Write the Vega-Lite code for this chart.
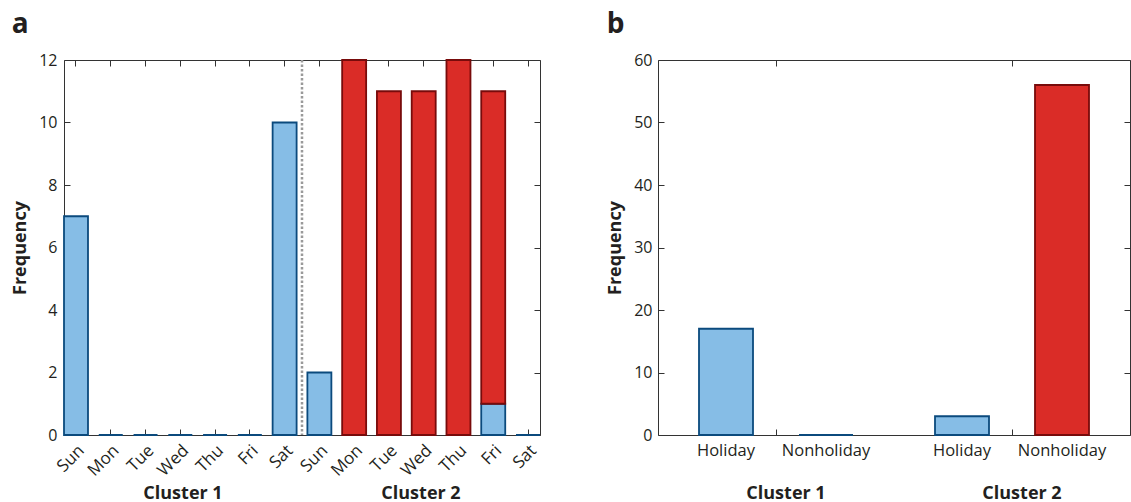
{
  "$schema": "https://vega.github.io/schema/vega-lite/v6.json",
  "padding": {"left": 11, "top": 10, "right": 0, "bottom": 0},
  "spacing": 64,
  "config": {
    "font": "Open Sans",
    "view": {"stroke": "#333333", "strokeWidth": 1},
    "axis": {
      "labelFont": "Open Sans", "labelFontSize": 16, "labelColor": "#231F20",
      "tickColor": "#333333", "tickSize": -6, "tickWidth": 1, "grid": false, "domain": false, "zindex": 1,
      "titleFont": "Open Sans", "titleFontWeight": "bold", "titleFontSize": 18, "titleColor": "#231F20"
    }
  },
  "hconcat": [
    {
      "width": 476, "height": 375,
      "title": {"text": "a", "anchor": "start", "frame": "bounds", "fontSize": 28, "fontWeight": "bold", "offset": 13, "color": "#231F20", "font": "Open Sans"},
      "layer": [
        {
          "data": {"values": [
            {"day": "Sun1", "type": "Holiday", "count": 7},
            {"day": "Mon1", "type": "Holiday", "count": 0},
            {"day": "Tue1", "type": "Holiday", "count": 0},
            {"day": "Wed1", "type": "Holiday", "count": 0},
            {"day": "Thu1", "type": "Holiday", "count": 0},
            {"day": "Fri1", "type": "Holiday", "count": 0},
            {"day": "Sat1", "type": "Holiday", "count": 10},
            {"day": "Sun2", "type": "Holiday", "count": 2},
            {"day": "Mon2", "type": "Nonholiday", "count": 12},
            {"day": "Tue2", "type": "Nonholiday", "count": 11},
            {"day": "Wed2", "type": "Nonholiday", "count": 11},
            {"day": "Thu2", "type": "Nonholiday", "count": 12},
            {"day": "Fri2", "type": "Holiday", "count": 1},
            {"day": "Fri2", "type": "Nonholiday", "count": 10},
            {"day": "Sat2", "type": "Holiday", "count": 0}
          ]},
          "mark": {"type": "bar", "strokeWidth": 1.8},
          "encoding": {
            "x": {"field": "day", "type": "nominal",
              "scale": {"type": "band", "domain": ["Sun1","Mon1","Tue1","Wed1","Thu1","Fri1","Sat1","Sun2","Mon2","Tue2","Wed2","Thu2","Fri2","Sat2"], "paddingInner": 0.31, "paddingOuter": 0},
              "axis": {"orient": "bottom", "title": null, "labelExpr": "slice(datum.label, 0, 3)", "labelAngle": -45, "labelPadding": 13, "labelFontSize": 17}},
            "y": {"field": "count", "type": "quantitative", "stack": "zero",
              "scale": {"domain": [0, 12], "nice": false},
              "axis": {"orient": "left", "title": "Frequency", "values": [0, 2, 4, 6, 8, 10, 12], "labelPadding": 13, "titlePadding": 9}},
            "color": {"field": "type", "type": "nominal", "scale": {"domain": ["Holiday", "Nonholiday"], "range": ["#86BDE6", "#DA2C27"]}, "legend": null},
            "stroke": {"field": "type", "type": "nominal", "scale": {"domain": ["Holiday", "Nonholiday"], "range": ["#0B4A7D", "#780B0B"]}, "legend": null},
            "order": {"field": "type", "sort": "ascending"}
          }
        },
        {
          "data": {"values": [{"cluster": "Cluster 2"}]},
          "mark": {"type": "rule", "strokeDash": [2.5, 2], "strokeWidth": 2.5, "stroke": "#9A9A9A"},
          "encoding": {
            "x": {"field": "cluster", "type": "nominal", "bandPosition": 0,
              "scale": {"type": "band", "domain": ["Cluster 1", "Cluster 2"], "paddingInner": 0, "paddingOuter": 0},
              "axis": {"orient": "bottom", "title": null, "ticks": false, "labelAngle": 0, "labelFontWeight": "bold", "labelFontSize": 18, "labelPadding": 49}}
          }
        },
        {
          "data": {"values": [{"day": "Sun1", "count": 0}]},
          "mark": {"type": "point", "opacity": 0},
          "encoding": {
            "x": {"field": "day", "type": "nominal",
              "scale": {"type": "band", "domain": ["Sun1","Mon1","Tue1","Wed1","Thu1","Fri1","Sat1","Sun2","Mon2","Tue2","Wed2","Thu2","Fri2","Sat2"], "paddingInner": 0.31, "paddingOuter": 0},
              "axis": {"orient": "top", "title": null, "labels": false}},
            "y": {"field": "count", "type": "quantitative",
              "scale": {"domain": [0, 12], "nice": false},
              "axis": {"orient": "right", "title": null, "labels": false, "values": [0, 2, 4, 6, 8, 10, 12]}}
          }
        }
      ],
      "resolve": {"scale": {"x": "independent", "y": "independent"}, "axis": {"x": "independent", "y": "independent"}}
    },
    {
      "width": 472, "height": 375,
      "title": {"text": "b", "anchor": "start", "frame": "bounds", "fontSize": 28, "fontWeight": "bold", "offset": 13, "color": "#231F20", "font": "Open Sans"},
      "layer": [
        {
          "data": {"values": [
            {"cluster": "Cluster 1", "type": "Holiday", "count": 17},
            {"cluster": "Cluster 1", "type": "Nonholiday", "count": 0},
            {"cluster": "Cluster 2", "type": "Holiday", "count": 3},
            {"cluster": "Cluster 2", "type": "Nonholiday", "count": 56}
          ]},
          "mark": {"type": "bar", "strokeWidth": 1.8},
          "encoding": {
            "x": {"field": "cluster", "type": "nominal",
              "scale": {"type": "band", "domain": ["Cluster 1", "Cluster 2"], "paddingInner": 0, "paddingOuter": 0},
              "axis": {"orient": "bottom", "title": null, "labelAngle": 0, "labelFontWeight": "bold", "labelFontSize": 18, "labelPadding": 55, "labelOffset": 10}},
            "xOffset": {"field": "type", "type": "nominal",
              "scale": {"type": "band", "domain": ["Holiday", "Nonholiday"], "paddingInner": 0.46, "paddingOuter": 0.41}},
            "y": {"field": "count", "type": "quantitative",
              "scale": {"domain": [0, 60], "nice": false},
              "axis": {"orient": "left", "title": "Frequency", "values": [0, 10, 20, 30, 40, 50, 60], "labelPadding": 12, "titlePadding": 9}},
            "color": {"field": "type", "type": "nominal", "scale": {"domain": ["Holiday", "Nonholiday"], "range": ["#86BDE6", "#DA2C27"]}, "legend": null},
            "stroke": {"condition": {"test": "datum.count === 0", "value": "#0B4A7D"}, "field": "type", "type": "nominal", "scale": {"domain": ["Holiday", "Nonholiday"], "range": ["#0B4A7D", "#780B0B"]}, "legend": null}
          }
        },
        {
          "data": {"values": [
            {"cluster": "Cluster 1", "type": "Holiday"},
            {"cluster": "Cluster 1", "type": "Nonholiday"},
            {"cluster": "Cluster 2", "type": "Holiday"},
            {"cluster": "Cluster 2", "type": "Nonholiday"}
          ]},
          "mark": {"type": "text", "baseline": "top", "dy": 8, "fontSize": 16.5, "color": "#231F20", "font": "Open Sans"},
          "encoding": {
            "x": {"field": "cluster", "type": "nominal",
              "scale": {"type": "band", "domain": ["Cluster 1", "Cluster 2"], "paddingInner": 0, "paddingOuter": 0},
              "axis": null},
            "xOffset": {"field": "type", "type": "nominal",
              "scale": {"type": "band", "domain": ["Holiday", "Nonholiday"], "paddingInner": 0.46, "paddingOuter": 0.41}},
            "y": {"datum": 0, "type": "quantitative", "scale": {"domain": [0, 60], "nice": false}, "axis": null},
            "text": {"field": "type"}
          }
        },
        {
          "data": {"values": [{"cluster": "Cluster 1", "count": 0}]},
          "mark": {"type": "point", "opacity": 0},
          "encoding": {
            "x": {"field": "cluster", "type": "nominal",
              "scale": {"type": "band", "domain": ["Cluster 1", "Cluster 2"], "paddingInner": 0, "paddingOuter": 0},
              "axis": {"orient": "top", "title": null, "labels": false}},
            "y": {"field": "count", "type": "quantitative",
              "scale": {"domain": [0, 60], "nice": false},
              "axis": {"orient": "right", "title": null, "labels": false, "values": [0, 10, 20, 30, 40, 50, 60]}}
          }
        }
      ],
      "resolve": {"scale": {"x": "independent", "y": "independent"}, "axis": {"x": "independent", "y": "independent"}}
    }
  ]
}
